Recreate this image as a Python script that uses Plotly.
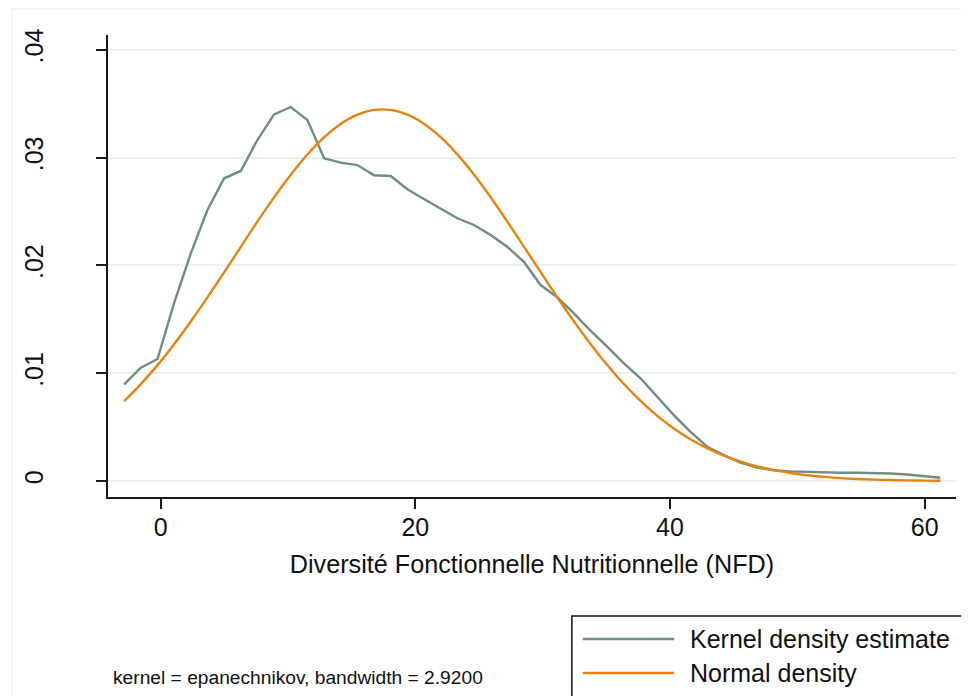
import plotly.graph_objects as go

# ---------------- data ----------------
x_grid = [-2.86, -1.55, -0.24, 1.06, 2.37, 3.68, 4.99, 6.30, 7.60, 8.91,
          10.22, 11.53, 12.84, 14.14, 15.45, 16.76, 18.07, 19.38, 20.68, 21.99,
          23.30, 24.61, 25.92, 27.22, 28.53, 29.84, 31.15, 32.46, 33.76, 35.07,
          36.38, 37.69, 39.00, 40.30, 41.61, 42.92, 44.23, 45.54, 46.84, 48.15,
          49.46, 50.77, 52.08, 53.38, 54.69, 56.00, 57.31, 58.62, 59.92, 61.23]

kernel_density = [0.00897, 0.01051, 0.01132, 0.01650, 0.02112, 0.02514, 0.02808, 0.02876, 0.03163, 0.03401,
                  0.03469, 0.03349, 0.02993, 0.02953, 0.02931, 0.02836, 0.02829, 0.02706, 0.02616, 0.02530,
                  0.02437, 0.02375, 0.02282, 0.02173, 0.02034, 0.01818, 0.01704, 0.01555, 0.01394, 0.01246,
                  0.01092, 0.00953, 0.00782, 0.00612, 0.00457, 0.00318, 0.00241, 0.00170, 0.00125, 0.00100,
                  0.00090, 0.00084, 0.00080, 0.00077, 0.00077, 0.00076, 0.00070, 0.00060, 0.00048, 0.00031]

normal_density = [0.00742, 0.00899, 0.01075, 0.01269, 0.01480, 0.01704, 0.01936, 0.02172, 0.02406, 0.02631,
                  0.02841, 0.03029, 0.03188, 0.03312, 0.03398, 0.03442, 0.03442, 0.03399, 0.03314, 0.03189,
                  0.03030, 0.02843, 0.02632, 0.02408, 0.02175, 0.01938, 0.01705, 0.01481, 0.01272, 0.01077,
                  0.00900, 0.00743, 0.00605, 0.00488, 0.00388, 0.00304, 0.00235, 0.00180, 0.00136, 0.00101,
                  0.00075, 0.00054, 0.00039, 0.00027, 0.00019, 0.00013, 0.00009, 0.00006, 0.00004, 0.00003]

series_names = ["Kernel density estimate", "Normal density"]
x_ticks = [0, 20, 40, 60]
x_tick_labels = ["0", "20", "40", "60"]
y_ticks = [0, 0.01, 0.02, 0.03, 0.04]
y_tick_labels = ["0", ".01", ".02", ".03", ".04"]
x_title = "Diversité Fonctionnelle Nutritionnelle (NFD)"
note_text = "kernel = epanechnikov, bandwidth = 2.9200"

# ---------------- style ----------------
KERNEL_COLOR = "#6E8D83"
NORMAL_COLOR = "#E8820E"
GRID_COLOR = "#EAF1F3"
AXIS_COLOR = "#1a1a1a"
FONT = "Liberation Sans, Arial, sans-serif"

W, H = 969, 696
OFF = 8  # page body margin: figure origin sits at (8, 8) on the page
# plot area in page pixels: x 102..955.7, y 35..497
L = 102 - OFF
T = 35 - OFF
R = W - (955.7 - OFF)
B = H - (497 - OFF)
pw, ph = W - L - R, H - T - B


def px_x(p):
    return (p - OFF - L) / pw


def px_y(p):
    return (H - B - (p - OFF)) / ph


fig = go.Figure()
fig.add_trace(go.Scatter(x=x_grid, y=kernel_density, mode="lines", name=series_names[0],
                         line=dict(color=KERNEL_COLOR, width=2.4), showlegend=False))
fig.add_trace(go.Scatter(x=x_grid, y=normal_density, mode="lines", name=series_names[1],
                         line=dict(color=NORMAL_COLOR, width=2.4, shape="spline"), showlegend=False))

fig.update_layout(
    width=W, height=H,
    margin=dict(l=L, r=R, t=T, b=B, pad=0),
    paper_bgcolor="white", plot_bgcolor="white",
    font=dict(family=FONT, color="#111111", size=25),
    xaxis=dict(range=[-4.13, 62.46], tickvals=x_ticks, ticktext=x_tick_labels,
               showgrid=False, zeroline=False, showline=True, linecolor=AXIS_COLOR, linewidth=1.5,
               ticks="outside", ticklen=10, tickwidth=1.5, tickcolor=AXIS_COLOR,
               tickfont=dict(size=25), ticklabelstandoff=-3,
               title=dict(text=x_title, font=dict(size=25.2), standoff=16)),
    yaxis=dict(range=[-0.00148, 0.04137], tickvals=y_ticks, ticktext=y_tick_labels,
               showgrid=True, gridcolor=GRID_COLOR, gridwidth=2, zeroline=False,
               showline=True, linecolor=AXIS_COLOR, linewidth=1.5,
               ticks="outside", ticklen=10, tickwidth=1.5, tickcolor=AXIS_COLOR,
               tickangle=-90, tickfont=dict(size=25), ticklabelstandoff=43),
)

shapes = []
# faint outer graph-region border
shapes.append(dict(type="rect", xref="paper", yref="paper",
                   x0=px_x(5), x1=px_x(1000), y0=px_y(730), y1=px_y(9),
                   line=dict(color="#EEF2F4", width=1.5), fillcolor="rgba(0,0,0,0)", layer="below"))
# legend box
shapes.append(dict(type="rect", xref="paper", yref="paper",
                   x0=px_x(569), x1=px_x(963), y0=px_y(730), y1=px_y(616),
                   line=dict(color="#111111", width=1.5), fillcolor="white"))
# legend sample lines
for yy, col in [(639, KERNEL_COLOR), (673, NORMAL_COLOR)]:
    shapes.append(dict(type="line", xref="paper", yref="paper",
                       x0=px_x(580), x1=px_x(672), y0=px_y(yy), y1=px_y(yy),
                       line=dict(color=col, width=2.4)))
fig.update_layout(shapes=shapes)

annotations = [
    dict(text=series_names[0], xref="paper", yref="paper", x=px_x(686), y=px_y(639),
         xanchor="left", yanchor="middle", showarrow=False, font=dict(size=25)),
    dict(text=series_names[1], xref="paper", yref="paper", x=px_x(686), y=px_y(673),
         xanchor="left", yanchor="middle", showarrow=False, font=dict(size=25)),
    dict(text=note_text, xref="paper", yref="paper", x=px_x(105), y=px_y(677),
         xanchor="left", yanchor="middle", showarrow=False, font=dict(size=19.2)),
]
fig.update_layout(annotations=annotations)

fig.write_html("out.html")
